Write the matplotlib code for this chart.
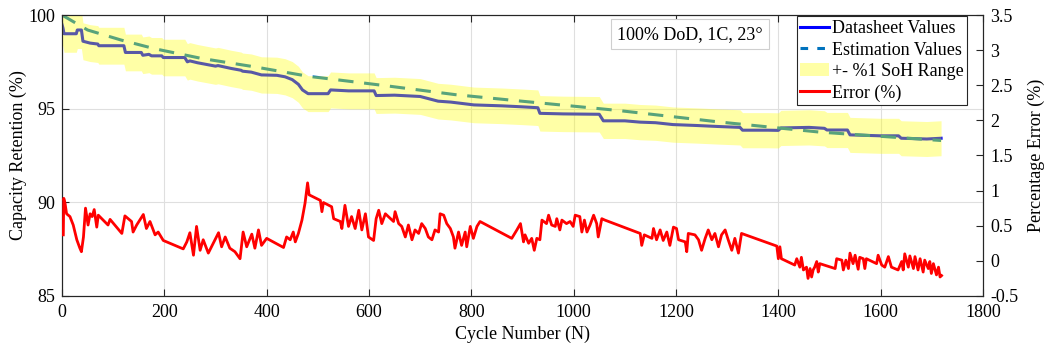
import numpy as np
import matplotlib
matplotlib.use("Agg")
import matplotlib.pyplot as plt
from matplotlib.patches import Patch
from matplotlib.lines import Line2D

plt.rcParams['font.family'] = ['Liberation Serif', 'DejaVu Serif']

# ---------------- data ----------------
blue_cycle = [0, 2, 4, 28, 30, 38, 41, 55, 70, 72, 121, 124, 155, 158, 170, 175, 195, 198, 240, 245,
              250, 265, 300, 305, 330, 350, 353, 370, 390, 393, 420, 436, 450, 462, 470, 481, 520, 525, 560, 610,
              614, 650, 700, 735, 760, 805, 860, 898, 930, 934, 980, 1050, 1058, 1100, 1130, 1160, 1194, 1241, 1280, 1325,
              1330, 1380, 1400, 1405, 1460, 1490, 1495, 1535, 1540, 1600, 1635, 1640, 1690, 1718]
blue_val = [99.5, 99.3, 99.0, 99.0, 99.2, 99.2, 98.6, 98.5, 98.45, 98.36, 98.36, 98.0, 98.0, 97.85, 97.9, 97.82, 97.82, 97.73, 97.73, 97.5,
            97.55, 97.45, 97.27, 97.3, 97.15, 97.05, 97.0, 96.95, 96.8, 96.8, 96.78, 96.7, 96.55, 96.3, 96.0, 95.8, 95.8, 96.0, 95.95, 95.95,
            95.7, 95.72, 95.65, 95.4, 95.35, 95.2, 95.15, 95.1, 95.05, 94.75, 94.72, 94.7, 94.35, 94.35, 94.28, 94.25, 94.15, 94.1, 94.05, 94.0,
            93.85, 93.85, 93.84, 93.97, 94.0, 93.95, 93.86, 93.86, 93.6, 93.55, 93.55, 93.42, 93.38, 93.42]

est_cycle = [0, 50, 116, 181, 273, 377, 481, 637, 768, 898, 1088, 1284, 1480, 1718]
est_val = [100.0, 99.2, 98.66, 98.2, 97.68, 97.23, 96.73, 96.21, 95.75, 95.4, 94.9, 94.29, 93.75, 93.3]

soh_range_pct = 1.0  # +- 1 % SoH band

err_cycle = [2.6, 3.5, 6, 9, 15.6, 22, 29, 35, 38, 42, 46, 51, 55, 59, 63, 68, 71, 90, 94, 117,
             123, 136, 139, 146, 152, 159, 165, 172, 182, 188, 198, 237, 244, 250, 257, 263, 270, 276, 286, 306,
             312, 319, 328, 338, 348, 354, 361, 371, 377, 384, 390, 400, 433, 439,
             446, 452, 456, 462, 469, 475, 480, 483, 505, 508, 511, 527, 531, 544, 547, 553, 560, 566, 573, 580,
             586, 593, 599, 609, 614, 619, 625, 632, 648, 651, 658, 664, 671, 677, 684, 690, 697, 703, 710, 716,
             723, 729, 736, 739, 746, 752, 759, 765, 768, 775, 781, 788, 791, 798, 804, 811, 817, 879, 889, 896,
             902, 905, 912, 918, 923, 928, 934, 938, 947, 951, 957, 964, 967, 973, 977, 986, 993, 999, 1003, 1012,
             1016, 1021, 1026, 1032, 1039, 1045, 1048, 1055, 1061, 1130, 1133, 1138, 1153, 1156, 1162, 1169, 1175, 1182, 1188, 1195,
             1201, 1205, 1218, 1221, 1224, 1237, 1244, 1250, 1257, 1263, 1270, 1276, 1283, 1289, 1296, 1302, 1309, 1315, 1322, 1328,
             1397, 1400, 1403, 1406, 1432, 1436, 1442, 1445, 1449, 1455, 1458, 1462, 1465, 1468, 1471, 1475, 1478, 1481, 1511, 1514,
             1524, 1527, 1532, 1537, 1540, 1546, 1550, 1556, 1559, 1566, 1569, 1572, 1592, 1595, 1602, 1608, 1615, 1621, 1634, 1641,
             1644, 1647, 1654, 1657, 1664, 1667, 1673, 1677, 1683, 1686, 1693, 1696, 1699, 1703, 1709, 1713, 1716, 1719]
err_val = [0.37, 0.89, 0.82, 0.67, 0.63, 0.51, 0.30, 0.18, 0.13, 0.34, 0.75, 0.51, 0.67, 0.63, 0.73, 0.48, 0.65, 0.51, 0.59, 0.39,
           0.64, 0.56, 0.41, 0.51, 0.58, 0.66, 0.46, 0.56, 0.37, 0.41, 0.29, 0.17, 0.27, 0.40, 0.08, 0.49, 0.15, 0.30, 0.11, 0.40,
           0.20, 0.34, 0.18, 0.13, 0.03, 0.41, 0.20, 0.38, 0.18, 0.44, 0.22, 0.32, 0.19, 0.34,
           0.30, 0.41, 0.27, 0.39, 0.58, 0.82, 1.11, 0.94, 0.86, 0.70, 0.83, 0.77, 0.60, 0.56, 0.46, 0.79, 0.49, 0.63, 0.46, 0.72,
           0.44, 0.67, 0.34, 0.29, 0.60, 0.72, 0.53, 0.67, 0.56, 0.70, 0.53, 0.49, 0.34, 0.51, 0.30, 0.44, 0.39, 0.53, 0.46, 0.34,
           0.30, 0.44, 0.41, 0.67, 0.65, 0.53, 0.46, 0.34, 0.18, 0.41, 0.22, 0.41, 0.20, 0.49, 0.32, 0.49, 0.56, 0.32, 0.44, 0.53,
           0.27, 0.37, 0.25, 0.32, 0.15, 0.32, 0.30, 0.58, 0.53, 0.65, 0.51, 0.49, 0.60, 0.44, 0.58, 0.53, 0.56, 0.49, 0.65, 0.63,
           0.41, 0.58, 0.41, 0.51, 0.65, 0.53, 0.34, 0.60, 0.58, 0.39, 0.22, 0.37, 0.32, 0.46, 0.30, 0.44, 0.29, 0.41, 0.22, 0.48,
           0.46, 0.30, 0.27, 0.13, 0.39, 0.37, 0.30, 0.15, 0.32, 0.44, 0.30, 0.39, 0.20, 0.37, 0.44, 0.30, 0.15, 0.32, 0.11, 0.39,
           0.21, 0.03, 0.20, 0.03, -0.06, 0.03, -0.09, 0.05, -0.13, -0.09, -0.25, -0.11, -0.23, -0.13, -0.09, -0.01, -0.16, -0.04, -0.11, 0.03,
           0.01, -0.13, 0.01, -0.11, 0.11, -0.04, 0.08, -0.12, 0.05, 0.03, -0.11, 0.03, -0.04, 0.08, -0.06, -0.09, 0.06, -0.09, -0.13, -0.01,
           -0.13, 0.10, -0.09, 0.07, -0.11, 0.06, -0.13, 0.03, -0.16, 0.01, -0.11, -0.01, -0.18, -0.04, -0.20, -0.09, -0.23, -0.21]

x_ticks = [0, 200, 400, 600, 800, 1000, 1200, 1400, 1600, 1800]
left_ticks = [85, 90, 95, 100]
right_ticks = [-0.5, 0, 0.5, 1, 1.5, 2, 2.5, 3, 3.5]
right_ticklabels = ['-0.5', '0', '0.5', '1', '1.5', '2', '2.5', '3', '3.5']
legend_labels = ['Datasheet Values', 'Estimation Values', '+- %1 SoH Range', 'Error (%)']

# ---------------- plot ----------------
fig = plt.figure(figsize=(10.45, 3.49), dpi=100)
ax = fig.add_axes([0.0593, 0.152, 0.8814, 0.805])
ax2 = ax.twinx()

axis_col = '#262626'
blue_c = '#0000FF'
est_c = '#0072BD'
band_c = '#FFFF00'

ax.plot(blue_cycle, blue_val, color=blue_c, lw=2.2, zorder=2)
ax.plot(est_cycle, est_val, color=est_c, lw=2.2, dashes=(5, 3.5), zorder=2)
bc = np.array(blue_cycle, dtype=float)
bv = np.array(blue_val, dtype=float)
ax.fill_between(bc, bv * (1 - soh_range_pct / 100), bv * (1 + soh_range_pct / 100),
                color=band_c, alpha=0.35, lw=0, zorder=3)

ax2.plot(err_cycle, err_val, color='#FF0000', lw=2.0, zorder=3)

ax.set_xlim(0, 1800)
ax.set_ylim(85, 100)
ax2.set_ylim(-0.5, 3.5)
ax.set_xticks(x_ticks)
ax.set_yticks(left_ticks)
ax2.set_yticks(right_ticks)
ax2.set_yticklabels(right_ticklabels)

ax.grid(True, color='#DFDFDF', lw=0.8)
ax.set_axisbelow(True)

fs = 13
for a in (ax, ax2):
    for s in a.spines.values():
        s.set_color(axis_col)
        s.set_linewidth(0.8)
ax.tick_params(axis='both', direction='in', length=5, width=0.8, colors=axis_col,
               labelsize=fs, labelcolor='black', top=True, right=False)
ax2.tick_params(axis='y', direction='in', length=5, width=0.8, colors=axis_col,
                labelsize=fs, labelcolor='black', pad=5)
ax.tick_params(axis='x', pad=6)
ax.tick_params(axis='y', pad=5)

ax.set_xlabel('Cycle Number (N)', fontsize=fs, labelpad=3)
ax.set_ylabel('Capacity Retention (%)', fontsize=fs, labelpad=1)
ax2.set_ylabel('Percentage Error (%)', fontsize=fs, labelpad=7)

ax.text(0.603, 0.962, '100% DoD, 1C, 23°', transform=ax.transAxes, fontsize=fs,
        ha='left', va='top', zorder=6,
        bbox=dict(boxstyle='square,pad=0.35', fc='white', ec='#CFCFCF', lw=0.8))

handles = [Line2D([], [], color=blue_c, lw=2.2),
           Line2D([], [], color=est_c, lw=2.2, dashes=(2.5, 3)),
           Patch(facecolor=band_c, alpha=0.35, edgecolor='none'),
           Line2D([], [], color='#FF0000', lw=2.2)]
leg = ax2.legend(handles, legend_labels, loc='upper right', bbox_to_anchor=(0.983, 0.995),
                 fontsize=fs, frameon=True, fancybox=False, framealpha=1, edgecolor=axis_col,
                 borderpad=0.2, labelspacing=0.25, handlelength=1.6, handletextpad=0.15,
                 borderaxespad=0.0)
leg.get_frame().set_linewidth(0.8)
leg.set_zorder(10)

fig.savefig('out.png', dpi=100)
